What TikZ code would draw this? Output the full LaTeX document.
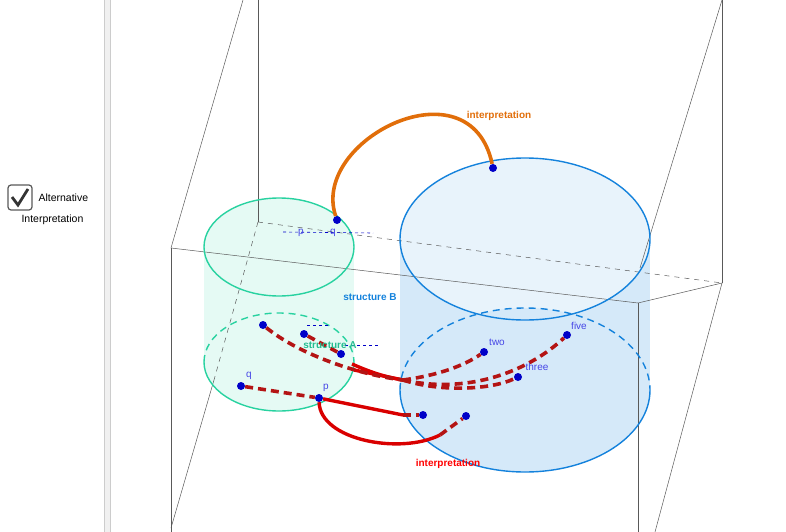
\documentclass[tikz,border=0pt]{standalone}
\usepackage{fontspec}
\setmainfont{Liberation Sans}
\usepackage{tikz}
\definecolor{teal}{RGB}{40,210,160}
\definecolor{sky}{RGB}{20,130,220}
\definecolor{dot}{RGB}{0,0,200}
\definecolor{lbl}{RGB}{70,70,230}
\definecolor{dred}{RGB}{180,20,20}
\definecolor{ora}{RGB}{225,110,10}
\tikzset{edge/.style={gray!70!black,line width=0.5pt},
  hid/.style={edge,dashed,dash pattern=on 5pt off 5pt},
  pt/.style={circle,fill=dot,inner sep=0pt,minimum size=8pt},
  lab/.style={text=lbl,font=\fontsize{10}{11}\selectfont,inner sep=1pt},
  rdash/.style={dred,line width=3.6pt,dash pattern=on 8pt off 5pt},
  rsolid/.style={red!85!black,line width=3.4pt}}

\begin{document}
\begin{tikzpicture}[x=1pt,y=-1pt]
\useasboundingbox (0,0) rectangle (786,532);
% side panel
\fill[gray!12] (104,0) rectangle (110,532);
\draw[gray!40] (104,0) -- (104,532) (110,0) -- (110,532);
\draw[gray!70!black,line width=1.2pt,rounded corners=3pt] (8,185) rectangle (32,210);
\draw[black!80,line width=2.8pt] (12,197) -- (18,205) -- (28,189);
\node[anchor=west,font=\fontsize{10.5}{12}\selectfont] (alt) at (35,198) {Alternative};
\node[anchor=west,font=\fontsize{10.5}{12}\selectfont] (int) at (18,220) {Interpretation};
% cylinders fill
\fill[teal!12] (204,247) rectangle (354,362);
\fill[teal!12] (279,247) ellipse (75 and 49);
\fill[teal!12] (279,362) ellipse (75 and 49);
\fill[sky!18] (400,239) rectangle (650,390);
\fill[sky!10] (525,239) ellipse (125 and 81);
\fill[sky!18] (525,390) ellipse (125 and 82);
% box
\draw[edge] (258,0) -- (258,222);
\draw[edge] (243,0) -- (171,248);
\draw[edge] (171,248) -- (171,532);
\draw[edge] (171,248) -- (638,303);
\draw[edge] (638,303) -- (638,532);
\draw[edge] (722,0) -- (722,283);
\draw[edge] (722,0) -- (640,268);
\draw[edge] (722,283) -- (638,303);
\draw[edge] (722,283) -- (655,532);
\draw[hid] (258,222) -- (722,283);
\draw[hid] (258,222) -- (214,380);
\draw[edge] (214,380) -- (171,528);
% green cylinder
\draw[teal,line width=1.4pt] (279,247) ellipse (75 and 49);
\draw[teal,line width=1.4pt] (204,362) arc (180:0:75 and 49);
\draw[teal,line width=1.4pt,dash pattern=on 7pt off 5pt] (204,362) arc (180:360:75 and 49);
% blue cylinder
\draw[sky,line width=1.4pt] (525,239) ellipse (125 and 81);
\draw[sky,line width=1.4pt] (400,390) arc (180:0:125 and 82);
\draw[sky,line width=1.4pt,dash pattern=on 7pt off 5pt] (400,390) arc (180:360:125 and 82);
% helper lines
\draw[dot,dashed,line width=0.6pt] (283,232) -- (373,233);
\draw[dot,dashed,line width=0.6pt] (307,325) -- (328,325);
\draw[dot,dashed,line width=0.6pt] (345,345) -- (380,345);
% points
\node[pt] (tq) at (337,220) {};
\node[pt] (tb) at (493,168) {};
\node[pt] (a1) at (263,325) {};
\node[pt] (a2) at (304,334) {};
\node[pt] (a3) at (341,354) {};
\node[pt] (aq) at (241,386) {};
\node[pt] (ap) at (319,398) {};
\node[pt] (btwo) at (484,352) {};
\node[pt] (bfive) at (567,335) {};
\node[pt] (bthree) at (518,377) {};
\node[pt] (b4) at (423,415) {};
\node[pt] (b5) at (466,416) {};
\coordinate (hub) at (403,380);
\coordinate (low) at (440,435);
% interpretation
\draw[ora,line width=3.6pt] (tq) .. controls (310,140) and (470,60) .. (tb);
\draw[rsolid] (352,364) .. controls (370,372) and (385,377) .. (hub);
\draw[rsolid] (354,370) -- (hub);
\draw[rsolid] (ap) -- (403,415);
\draw[rsolid] (ap) .. controls (320,440) and (400,455) .. (low);
\draw[rdash] (a1) .. controls (300,355) and (360,375) .. (hub);
\draw[rdash] (a2) -- (a3);
\draw[rdash] (aq) -- (ap);
\draw[rdash] (hub) .. controls (440,375) and (465,365) .. (btwo);
\draw[rdash] (hub) .. controls (470,395) and (530,370) .. (bfive);
\draw[rdash] (hub) .. controls (440,392) and (490,390) .. (bthree);
\draw[rdash] (403,415) -- (b4);
\draw[rdash] (low) -- (b5);
% labels
\node[lab] (lp) at (301,233) {p};
\node[lab] (lq) at (333,233) {q};
\node[lab] (laq) at (249,376) {q};
\node[lab] (lap) at (326,388) {p};
\node[lab] (ltwo) at (497,342) {two};
\node[lab] (lfive) at (579,326) {five};
\node[lab] (lthree) at (537,367) {three};
\node[lab,text=teal!90!black] (sA) at (330,345) {\textbf{structure A}};
\node[lab,text=sky] (sB) at (370,297) {\textbf{structure B}};
\node[lab,text=ora] (iO) at (499,116) {\textbf{interpretation}};
\node[lab,text=red] (iR) at (448,464) {\textbf{interpretation}};
\end{tikzpicture}
\end{document}
